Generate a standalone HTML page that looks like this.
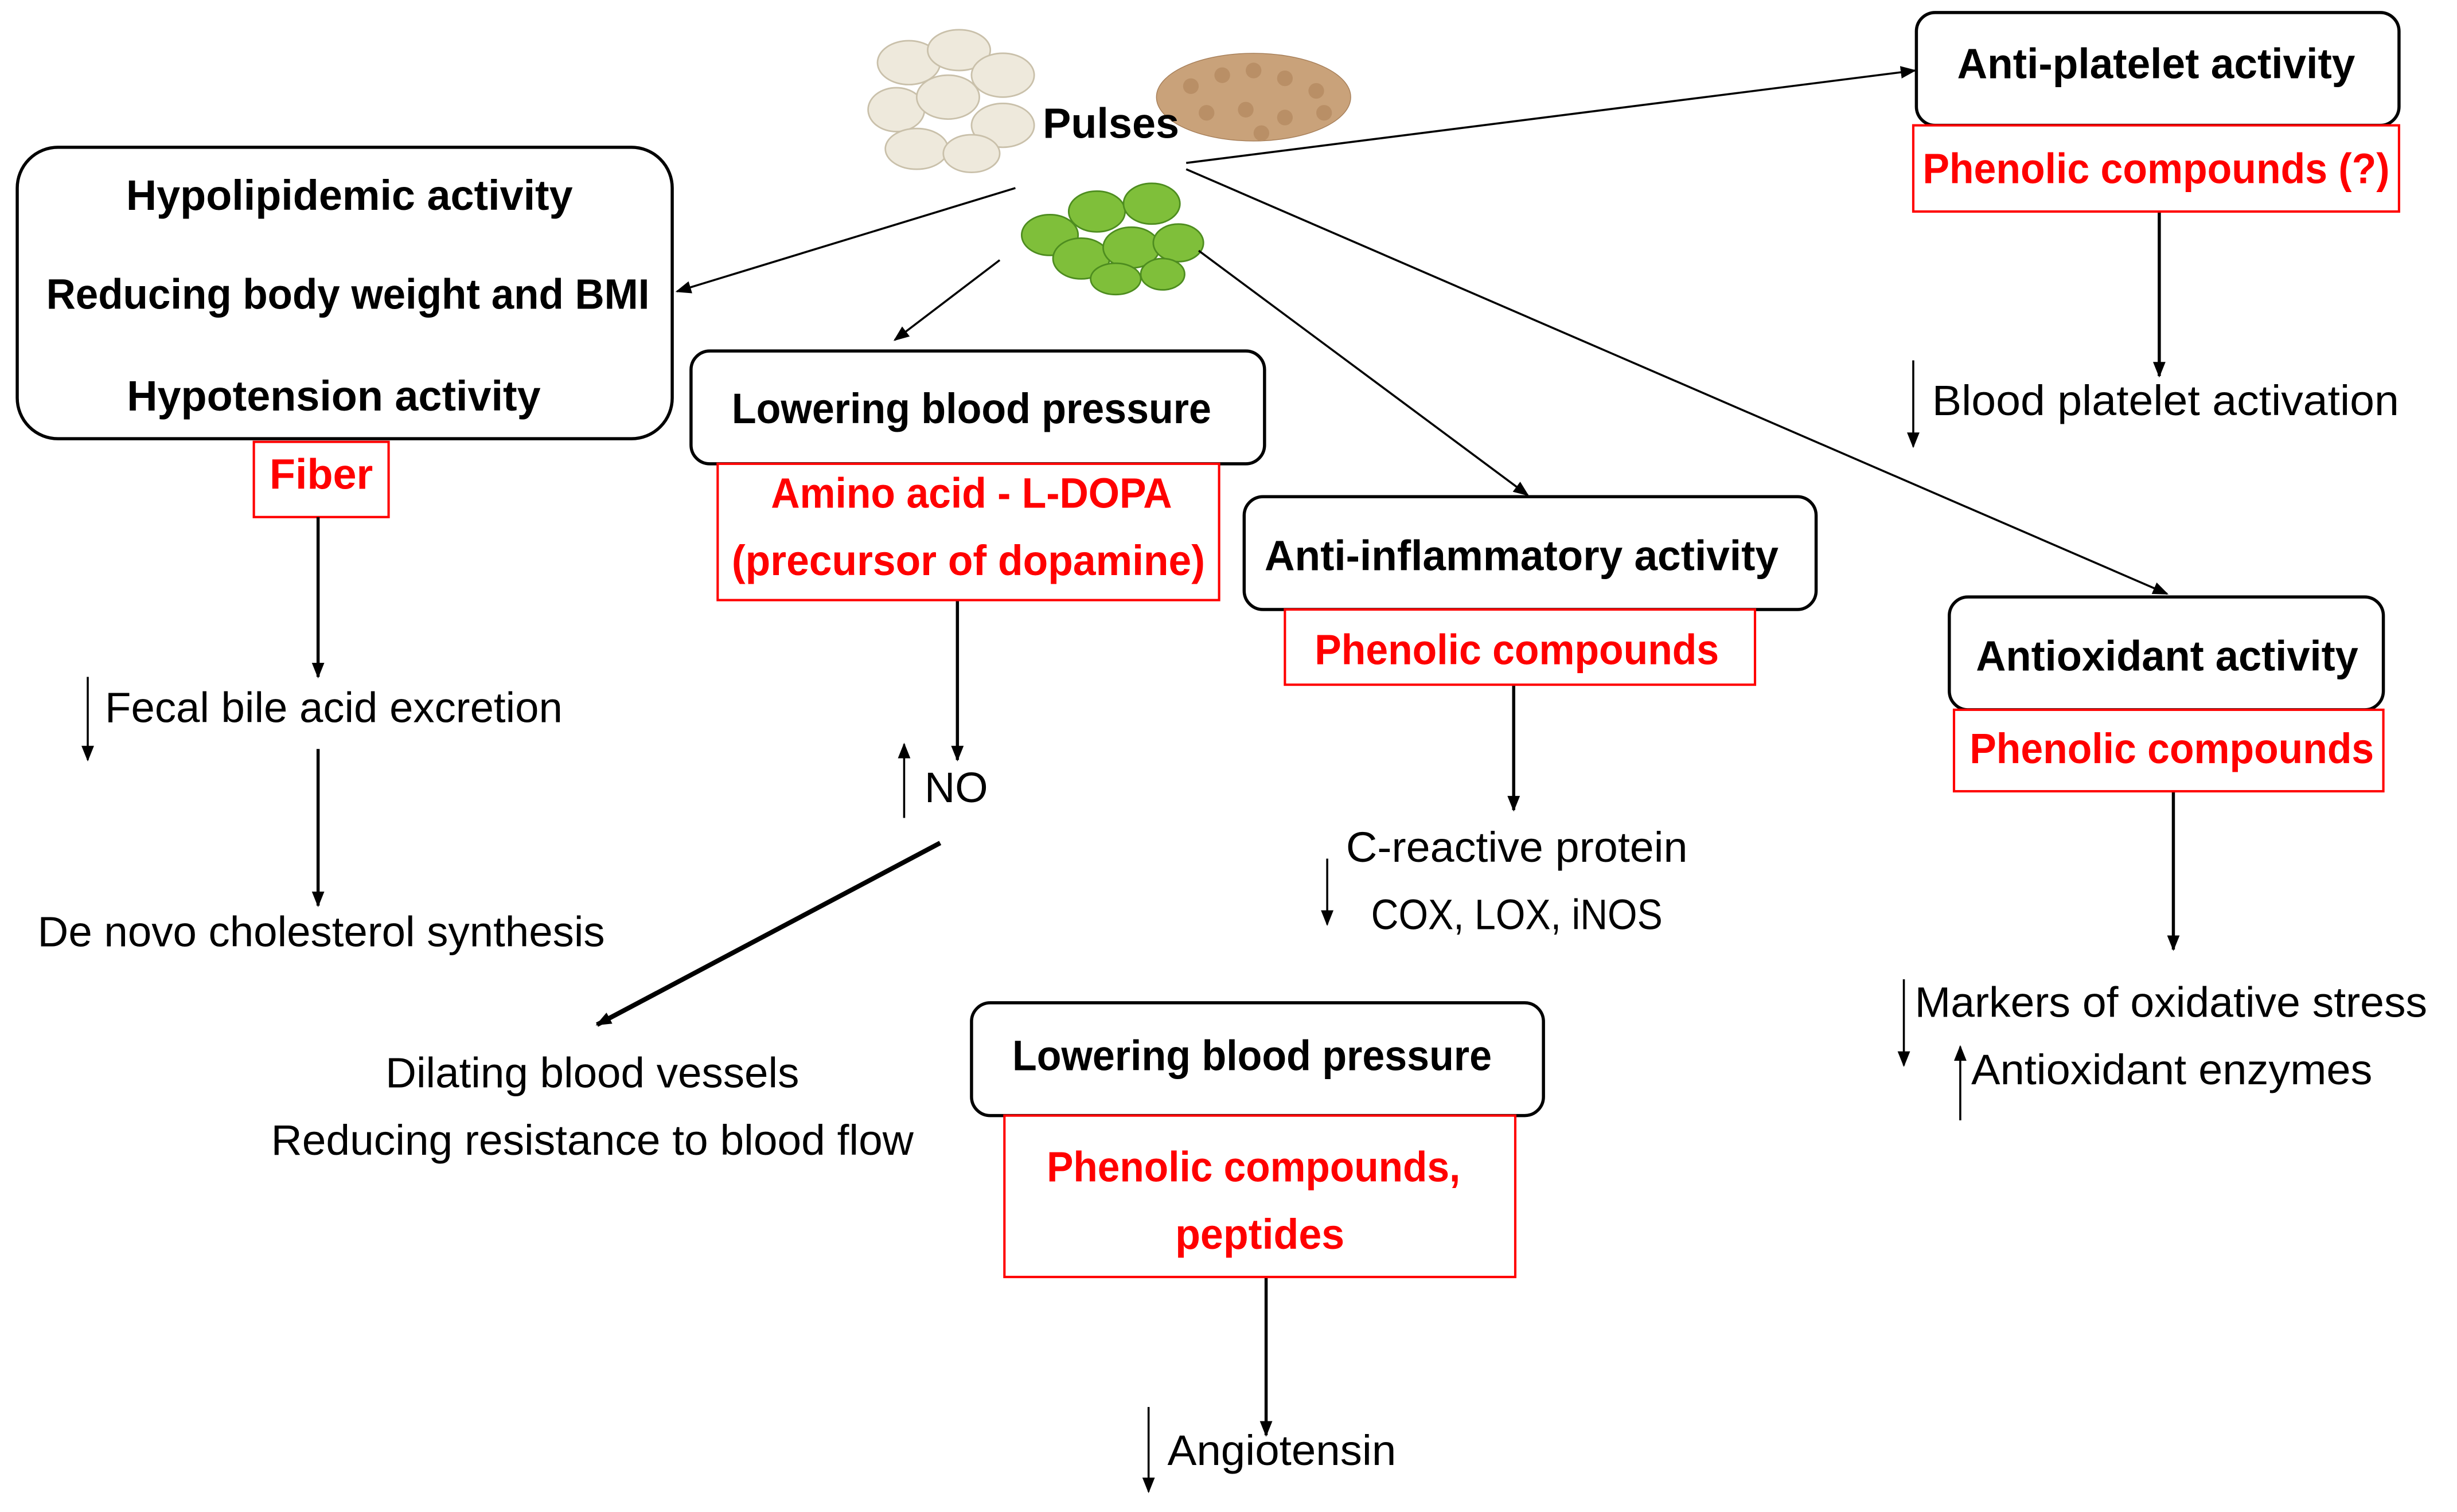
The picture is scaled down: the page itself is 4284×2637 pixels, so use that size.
<!DOCTYPE html>
<html><head><meta charset="utf-8"><style>
html,body{margin:0;padding:0;background:#fff;}
svg{display:block;}
text{font-family:"Liberation Sans",sans-serif;}
.b{font-weight:bold;font-size:27px;fill:#000;}
.r{font-weight:bold;font-size:27px;fill:#ff0000;}
.n{font-size:27px;fill:#000;}
</style></head><body>
<svg width="4284" height="2637" viewBox="0 0 1568 965" preserveAspectRatio="none" xmlns="http://www.w3.org/2000/svg">
<defs>
<marker id="a" markerWidth="10" markerHeight="10" refX="9" refY="5" orient="auto" markerUnits="userSpaceOnUse"><path d="M0,1 L10,5 L0,9 z" fill="#000"/></marker>
</defs>
<rect width="1600" height="1000" fill="#fff"/>

<g fill="#eee9dc" stroke="#c9c0aa" stroke-width="1">
<ellipse cx="580" cy="40" rx="20" ry="14"/><ellipse cx="612" cy="32" rx="20" ry="13"/><ellipse cx="640" cy="48" rx="20" ry="14"/>
<ellipse cx="572" cy="70" rx="18" ry="14"/><ellipse cx="605" cy="62" rx="20" ry="14"/><ellipse cx="640" cy="80" rx="20" ry="14"/>
<ellipse cx="585" cy="95" rx="20" ry="13"/><ellipse cx="620" cy="98" rx="18" ry="12"/>
</g>
<g fill="#c9a27a" stroke="#a57d57" stroke-width="0.5">
<ellipse cx="800" cy="62" rx="62" ry="28"/>
</g>
<g fill="#b98f66"><circle cx="760" cy="55" r="5"/><circle cx="780" cy="48" r="5"/><circle cx="800" cy="45" r="5"/><circle cx="820" cy="50" r="5"/><circle cx="840" cy="58" r="5"/><circle cx="770" cy="72" r="5"/><circle cx="795" cy="70" r="5"/><circle cx="820" cy="75" r="5"/><circle cx="845" cy="72" r="5"/><circle cx="805" cy="85" r="5"/></g>
<g fill="#7fbf3a" stroke="#4d8c1f" stroke-width="1">
<ellipse cx="670" cy="150" rx="18" ry="13"/><ellipse cx="700" cy="135" rx="18" ry="13"/><ellipse cx="735" cy="130" rx="18" ry="13"/>
<ellipse cx="690" cy="165" rx="18" ry="13"/><ellipse cx="722" cy="158" rx="18" ry="13"/><ellipse cx="752" cy="155" rx="16" ry="12"/>
<ellipse cx="712" cy="178" rx="16" ry="10"/><ellipse cx="742" cy="175" rx="14" ry="10"/>
</g>
<text x="709" y="88" text-anchor="middle" class="b">Pulses</text>

<g stroke="#000" stroke-width="1.3" fill="none" marker-end="url(#a)">
<line x1="757" y1="104" x2="1222" y2="45"/>
<line x1="757" y1="108" x2="1383" y2="379"/>
<line x1="765" y1="160" x2="975" y2="316"/>
<line x1="638" y1="166" x2="571" y2="217"/>
<line x1="648" y1="120" x2="432" y2="186"/>
</g>

<rect x="11" y="94" width="418" height="186" rx="26" fill="#fff" stroke="#000" stroke-width="2"/>
<text x="223" y="134" text-anchor="middle" class="b">Hypolipidemic activity</text>
<text x="222" y="197" text-anchor="middle" class="b" textLength="385" lengthAdjust="spacingAndGlyphs">Reducing body weight and BMI</text>
<text x="213" y="262" text-anchor="middle" class="b">Hypotension activity</text>
<rect x="162" y="282" width="86" height="48" fill="#fff" stroke="#ff0000" stroke-width="1.5"/>
<text x="205" y="312" text-anchor="middle" class="r">Fiber</text>

<g stroke="#000" stroke-width="2" fill="none" marker-end="url(#a)">
<line x1="203" y1="330" x2="203" y2="432"/>
<line x1="203" y1="478" x2="203" y2="578"/>
<line x1="611" y1="383" x2="611" y2="485"/>
<line x1="600" y1="538" x2="381" y2="654" stroke-width="3"/>
<line x1="966" y1="437" x2="966" y2="517"/>
<line x1="808" y1="815" x2="808" y2="916"/>
<line x1="1378" y1="135" x2="1378" y2="240"/>
<line x1="1387" y1="505" x2="1387" y2="606"/>
</g>
<g stroke="#000" stroke-width="1.3" fill="none" marker-end="url(#a)">
<line x1="56" y1="432" x2="56" y2="485"/>
<line x1="577" y1="522" x2="577" y2="475"/>
<line x1="847" y1="548" x2="847" y2="590"/>
<line x1="733" y1="898" x2="733" y2="952"/>
<line x1="1221" y1="230" x2="1221" y2="285"/>
<line x1="1215" y1="625" x2="1215" y2="680"/>
<line x1="1251" y1="715" x2="1251" y2="668"/>
</g>

<text x="67" y="461" class="n" textLength="292" lengthAdjust="spacingAndGlyphs">Fecal bile acid excretion</text>
<text x="205" y="604" text-anchor="middle" class="n" textLength="362" lengthAdjust="spacingAndGlyphs">De novo cholesterol synthesis</text>

<rect x="441" y="224" width="366" height="72" rx="12" fill="#fff" stroke="#000" stroke-width="2"/>
<text x="620" y="270" text-anchor="middle" class="b" textLength="306" lengthAdjust="spacingAndGlyphs">Lowering blood pressure</text>
<rect x="458" y="296" width="320" height="87" fill="#fff" stroke="#ff0000" stroke-width="1.5"/>
<text x="620" y="324" text-anchor="middle" class="r" textLength="256" lengthAdjust="spacingAndGlyphs">Amino acid - L-DOPA</text>
<text x="618" y="367" text-anchor="middle" class="r" textLength="302" lengthAdjust="spacingAndGlyphs">(precursor of dopamine)</text>
<text x="590" y="512" class="n">NO</text>
<text x="378" y="694" text-anchor="middle" class="n" textLength="264" lengthAdjust="spacingAndGlyphs">Dilating blood vessels</text>
<text x="378" y="737" text-anchor="middle" class="n" textLength="410" lengthAdjust="spacingAndGlyphs">Reducing resistance to blood flow</text>

<rect x="794" y="317" width="365" height="72" rx="12" fill="#fff" stroke="#000" stroke-width="2"/>
<text x="971" y="364" text-anchor="middle" class="b" textLength="328" lengthAdjust="spacingAndGlyphs">Anti-inflammatory activity</text>
<rect x="820" y="389" width="300" height="48" fill="#fff" stroke="#ff0000" stroke-width="1.5"/>
<text x="968" y="424" text-anchor="middle" class="r" textLength="258" lengthAdjust="spacingAndGlyphs">Phenolic compounds</text>
<text x="968" y="550" text-anchor="middle" class="n" textLength="218" lengthAdjust="spacingAndGlyphs">C-reactive protein</text>
<text x="968" y="593" text-anchor="middle" class="n" textLength="186" lengthAdjust="spacingAndGlyphs">COX, LOX, iNOS</text>

<rect x="620" y="640" width="365" height="72" rx="12" fill="#fff" stroke="#000" stroke-width="2"/>
<text x="799" y="683" text-anchor="middle" class="b" textLength="306" lengthAdjust="spacingAndGlyphs">Lowering blood pressure</text>
<rect x="641" y="712" width="326" height="103" fill="#fff" stroke="#ff0000" stroke-width="1.5"/>
<text x="800" y="754" text-anchor="middle" class="r" textLength="264" lengthAdjust="spacingAndGlyphs">Phenolic compounds,</text>
<text x="804" y="797" text-anchor="middle" class="r" textLength="108" lengthAdjust="spacingAndGlyphs">peptides</text>
<text x="745" y="935" class="n" textLength="146" lengthAdjust="spacingAndGlyphs">Angiotensin</text>

<rect x="1223" y="8" width="308" height="72" rx="12" fill="#fff" stroke="#000" stroke-width="2"/>
<text x="1376" y="50" text-anchor="middle" class="b" textLength="254" lengthAdjust="spacingAndGlyphs">Anti-platelet activity</text>
<rect x="1221" y="80" width="310" height="55" fill="#fff" stroke="#ff0000" stroke-width="1.5"/>
<text x="1376" y="117" text-anchor="middle" class="r" textLength="298" lengthAdjust="spacingAndGlyphs">Phenolic compounds (?)</text>
<text x="1233" y="265" class="n" textLength="298" lengthAdjust="spacingAndGlyphs">Blood platelet activation</text>

<rect x="1244" y="381" width="277" height="72" rx="12" fill="#fff" stroke="#000" stroke-width="2"/>
<text x="1383" y="428" text-anchor="middle" class="b" textLength="244" lengthAdjust="spacingAndGlyphs">Antioxidant activity</text>
<rect x="1247" y="453" width="274" height="52" fill="#fff" stroke="#ff0000" stroke-width="1.5"/>
<text x="1386" y="487" text-anchor="middle" class="r" textLength="258" lengthAdjust="spacingAndGlyphs">Phenolic compounds</text>
<text x="1222" y="649" class="n" textLength="327" lengthAdjust="spacingAndGlyphs">Markers of oxidative stress</text>
<text x="1258" y="692" class="n" textLength="256" lengthAdjust="spacingAndGlyphs">Antioxidant enzymes</text>
</svg>
</body></html>
